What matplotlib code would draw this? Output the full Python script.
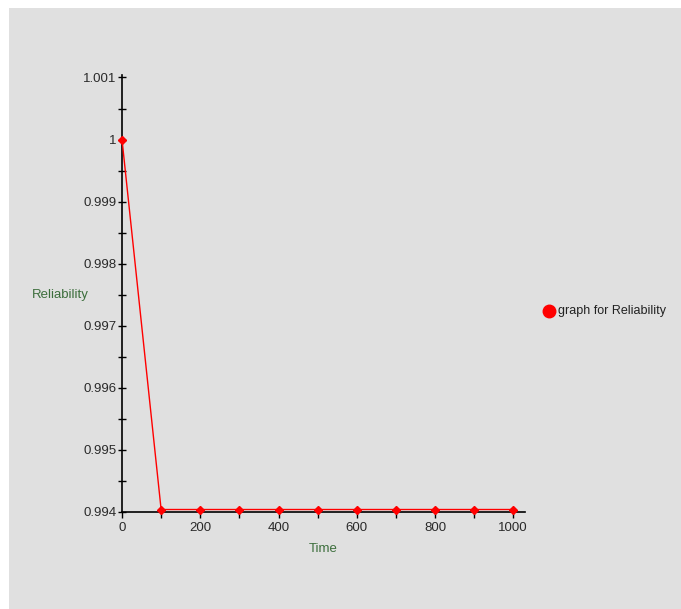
import matplotlib
matplotlib.use('Agg')
import matplotlib.pyplot as plt
from matplotlib.patches import Rectangle
from matplotlib.ticker import MultipleLocator

# 数据
time = [0, 100, 200, 300, 400, 500, 600, 700, 800, 900, 1000]
reliability = [1.0, 0.99404, 0.99404, 0.99404, 0.99404, 0.99404,
               0.99404, 0.99404, 0.99404, 0.99404, 0.99404]
y_ticks = [0.994, 0.995, 0.996, 0.997, 0.998, 0.999, 1.0, 1.001]
y_labels = ['0.994', '0.995', '0.996', '0.997', '0.998', '0.999', '1', '1.001']
x_ticks = [0, 200, 400, 600, 800, 1000]

plt.rcParams['font.family'] = ['Liberation Sans', 'DejaVu Sans']

fig = plt.figure(figsize=(6.81, 6.09), dpi=100)
fig.patch.set_facecolor('white')
# 灰色背景面板
fig.patches.append(Rectangle((9 / 681, 0), 1, 1 - 8 / 609, transform=fig.transFigure,
                             facecolor='#e0e0e0', edgecolor='none', zorder=-5))

ax = fig.add_axes([122 / 681, 1 - 512 / 609, (525 - 122) / 681, (512 - 75) / 609])
ax.set_facecolor('none')
ax.set_zorder(5)

ax.plot(time, reliability, color='#ff0000', linewidth=1, marker='D',
        markersize=4, markerfacecolor='#ff0000', markeredgecolor='#ff0000',
        clip_on=False, zorder=3)

ax.set_xlim(0, 1030)
ax.set_ylim(0.994, 1.00104)

ax.set_xticks(x_ticks)
ax.xaxis.set_minor_locator(MultipleLocator(100))
ax.set_yticks(y_ticks)
ax.set_yticklabels(y_labels)
ax.yaxis.set_minor_locator(MultipleLocator(0.0005))

for s in ['top', 'right']:
    ax.spines[s].set_visible(False)
for s in ['left', 'bottom']:
    ax.spines[s].set_color('black')
    ax.spines[s].set_linewidth(1.2)

ax.tick_params(axis='y', which='both', direction='inout', length=6, width=1,
               labelsize=9.5, labelcolor='#2a2a2a', pad=1)
ax.tick_params(axis='x', which='both', direction='out', length=4, width=1,
               labelsize=9.5, labelcolor='#2a2a2a', pad=3)

ax.set_xlabel('Time', color='#3c6e3c', fontsize=9.5, labelpad=7)
fig.text(60 / 681, 1 - 295 / 609, 'Reliability', color='#3c6e3c', fontsize=9.5,
         ha='center', va='center')

# 图例
fig.lines.append(plt.Line2D([549 / 681], [1 - 311 / 609], transform=fig.transFigure,
                            marker='o', markersize=9, color='#ff0000', linestyle='none'))
fig.text(558 / 681, 1 - 311 / 609, 'graph for Reliability', fontsize=9,
         color='#222222', ha='left', va='center')

fig.savefig('out.png', dpi=100)
